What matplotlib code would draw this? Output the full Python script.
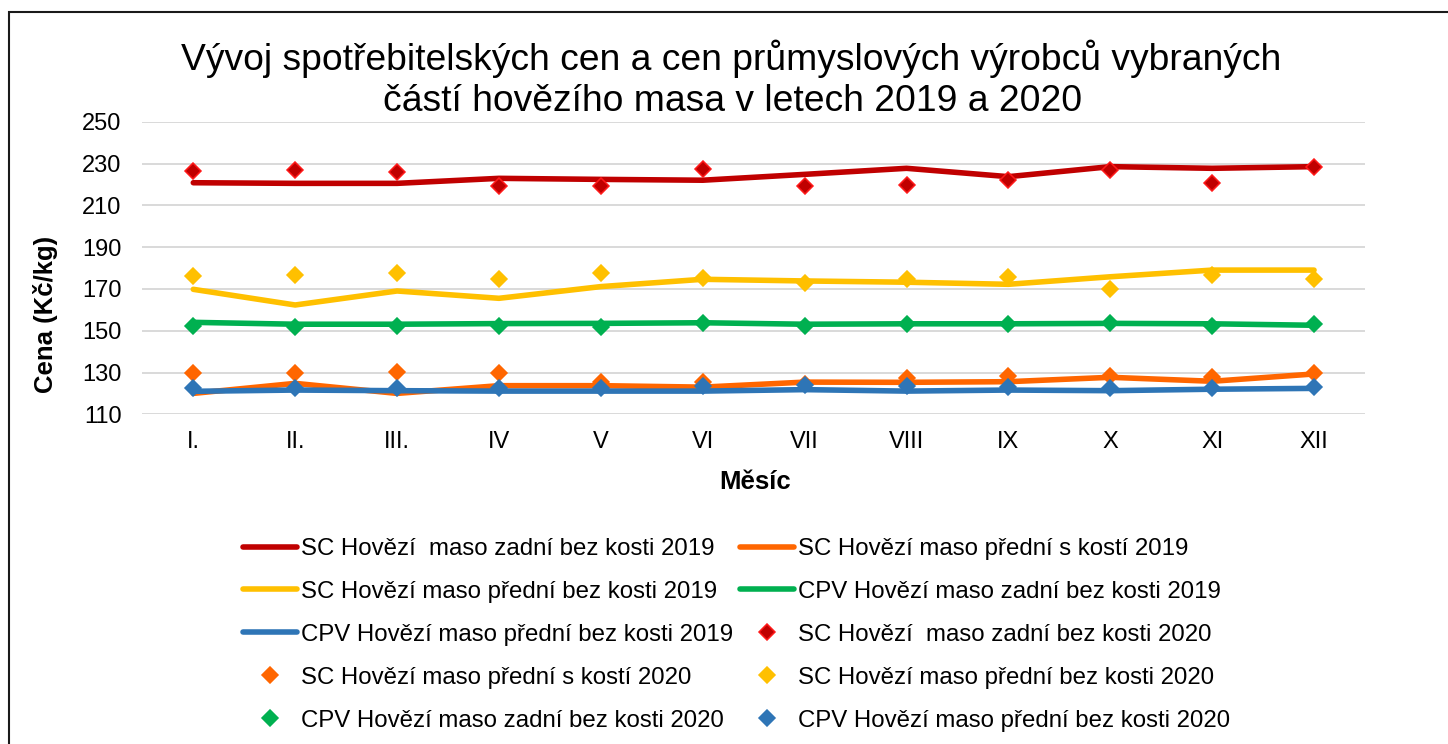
import matplotlib
matplotlib.use("Agg")
import matplotlib.pyplot as plt
from matplotlib.patches import Rectangle

plt.rcParams['font.family'] = ['Liberation Sans', 'DejaVu Sans']

months = ['I.', 'II.', 'III.', 'IV', 'V', 'VI', 'VII', 'VIII', 'IX', 'X', 'XI', 'XII']

sc_zadni_2019 = [220.8, 220.5, 220.5, 222.9, 222.4, 222.0, 224.8, 227.7, 223.7, 228.5, 227.7, 228.5]
sc_predni_s_2019 = [120.0, 124.8, 120.0, 123.7, 123.7, 123.0, 125.4, 125.3, 125.6, 127.7, 125.8, 129.3]
sc_predni_bez_2019 = [169.8, 162.3, 169.0, 165.5, 171.1, 174.6, 173.8, 173.2, 172.2, 175.8, 179.0, 179.0]
cpv_zadni_2019 = [154.0, 153.1, 153.1, 153.4, 153.5, 153.8, 153.1, 153.3, 153.3, 153.5, 153.3, 152.6]
cpv_predni_2019 = [121.0, 121.6, 121.3, 121.1, 121.1, 121.1, 121.8, 121.1, 121.6, 121.3, 122.0, 122.4]

sc_zadni_2020 = [226.6, 226.9, 225.9, 219.2, 219.4, 227.2, 219.2, 219.7, 222.1, 226.9, 220.5, 228.2]
sc_predni_s_2020 = [130.0, 129.6, 130.4, 129.6, 125.6, 125.3, 124.5, 127.5, 128.5, 128.5, 128.0, 130.0]
sc_predni_bez_2020 = [176.3, 176.5, 177.5, 174.7, 177.5, 175.0, 173.0, 174.6, 175.8, 170.0, 176.6, 174.6]
cpv_zadni_2020 = [152.2, 151.9, 152.2, 152.2, 151.9, 153.5, 152.2, 153.3, 153.1, 153.5, 152.3, 153.3]
cpv_predni_2020 = [122.7, 122.4, 122.4, 122.4, 122.7, 123.5, 124.0, 123.7, 123.2, 122.4, 122.7, 123.2]

yticks = [110, 130, 150, 170, 190, 210, 230, 250]

labels_2019 = ['SC Hovězí  maso zadní bez kosti 2019',
               'SC Hovězí maso přední s kostí 2019',
               'SC Hovězí maso přední bez kosti 2019',
               'CPV Hovězí maso zadní bez kosti 2019',
               'CPV Hovězí maso přední bez kosti 2019']
labels_2020 = ['SC Hovězí  maso zadní bez kosti 2020',
               'SC Hovězí maso přední s kostí 2020',
               'SC Hovězí maso přední bez kosti 2020',
               'CPV Hovězí maso zadní bez kosti 2020',
               'CPV Hovězí maso přední bez kosti 2020']

title_lines = ['Vývoj spotřebitelských cen a cen průmyslových výrobců vybraných',
               'částí hovězího masa v letech 2019 a 2020']

colors = ['#C00000', '#FF6600', '#FFC000', '#00B050', '#2E75B6']
edge_2020 = ['#FF1A1A', '#FF6600', '#FFC000', '#00B050', '#2E75B6']

W, H = 1448, 744
fig = plt.figure(figsize=(W / 100, H / 100), dpi=100)
ax = fig.add_axes([142.35 / W, 1 - 414.3 / H, (1365 - 142.35) / W, (414.3 - 121.7) / H])

x = list(range(len(months)))
series_2019 = [sc_zadni_2019, sc_predni_s_2019, sc_predni_bez_2019, cpv_zadni_2019, cpv_predni_2019]
series_2020 = [sc_zadni_2020, sc_predni_s_2020, sc_predni_bez_2020, cpv_zadni_2020, cpv_predni_2020]

h19 = []
for vals, c, lab in zip(series_2019, colors, labels_2019):
    ln, = ax.plot(x, vals, color=c, lw=4.0, solid_joinstyle='round', solid_capstyle='round',
                  label=lab, zorder=3)
    h19.append(ln)
h20 = []
for vals, c, ec, lab in zip(series_2020, colors, edge_2020, labels_2020):
    ln, = ax.plot(x, vals, ls='none', marker='D', ms=8.3, mfc=c, mec=ec, mew=1.1,
                  label=lab, zorder=4)
    h20.append(ln)

ax.set_xlim(-0.5, len(months) - 0.5)
ax.set_ylim(110, 250)
ax.set_yticks(yticks)
ax.set_xticks(x)
ax.set_xticklabels(months)
ax.grid(axis='y', color='#D9D9D9', lw=1.4, zorder=0)
ax.set_axisbelow(True)
for s in ax.spines.values():
    s.set_visible(False)
ax.tick_params(axis='both', length=0, labelsize=17, colors='#000000')
ax.tick_params(axis='x', pad=12)
ax.tick_params(axis='y', pad=15)

fig.text(731 / W, 1 - 70 / H, title_lines[0], ha='center', va='baseline', fontsize=26.8)
fig.text(733 / W, 1 - 111 / H, title_lines[1], ha='center', va='baseline', fontsize=26.8)
fig.text(46 / W, 1 - 314 / H, 'Cena (Kč/kg)', rotation=90, ha='center', va='center',
         fontsize=18.5, fontweight='bold')
fig.text(755 / W, 1 - 482 / H, 'Měsíc', ha='center', va='center',
         fontsize=18.5, fontweight='bold')

order = [h19[0], h19[2], h19[4], h20[1], h20[3], h19[1], h19[3], h20[0], h20[2], h20[4]]
fig.legend(handles=order, labels=[h.get_label() for h in order], ncol=2,
           loc='upper left', bbox_to_anchor=(243 / W, 1 - 538 / H),
           frameon=False, fontsize=17.3, handlelength=2.25, handletextpad=0.17,
           columnspacing=0.28, labelspacing=0.87, borderpad=0, borderaxespad=0,
           numpoints=1)

fig.add_artist(Rectangle((8.5 / W, -0.05), 1.2, 1.05 - 11.5 / H,
                         transform=fig.transFigure, fill=False, edgecolor='#1A1A1A',
                         lw=1.5, clip_on=False))

fig.savefig('out.png', dpi=100)
